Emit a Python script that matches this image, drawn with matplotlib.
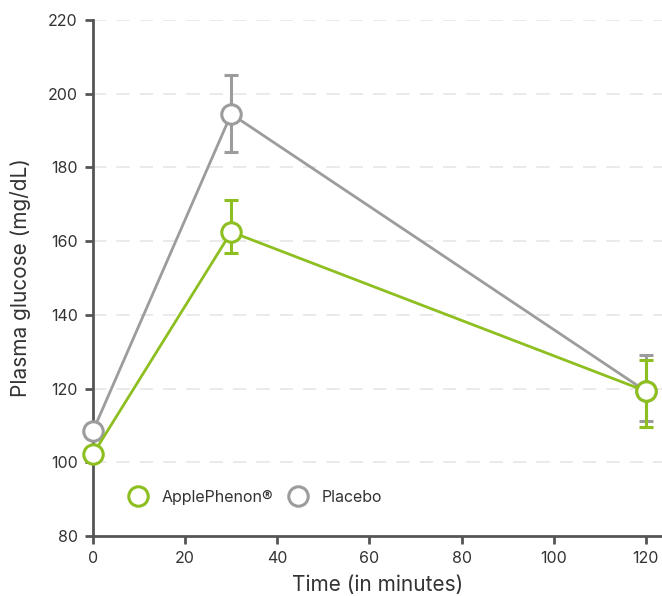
import matplotlib
matplotlib.use('Agg')
import matplotlib.pyplot as plt
from matplotlib.lines import Line2D

plt.rcParams['font.family'] = ['Inter', 'DejaVu Sans']

# --- data ---
time_min = [0, 30, 120]
apple_mean = [102.2, 162.5, 119.3]
apple_err_lo = [0, 5.7, 9.8]
apple_err_hi = [0, 8.7, 8.5]
placebo_mean = [108.5, 194.5, 119.3]
placebo_err_lo = [0, 10.3, 8.0]
placebo_err_hi = [0, 10.5, 9.8]

yticks = [80, 100, 120, 140, 160, 180, 200, 220]
xticks = [0, 20, 40, 60, 80, 100, 120]

GREEN = '#8cbf1f'
GRAY = '#9c9c9c'
AXIS = '#555555'
TEXT = '#333333'

fig = plt.figure(figsize=(6.62, 5.96), dpi=100)
ax = fig.add_axes([93 / 662, 60 / 596, 569 / 662, 516 / 596])

for mean, lo, hi, col, z in [(placebo_mean, placebo_err_lo, placebo_err_hi, GRAY, 3),
                             (apple_mean, apple_err_lo, apple_err_hi, GREEN, 4)]:
    ax.errorbar(time_min, mean, yerr=[lo, hi], color=col, lw=2, elinewidth=2.2,
                capsize=5, capthick=2.2, marker='o', markersize=14,
                markerfacecolor='white', markeredgecolor=col, markeredgewidth=2.2,
                zorder=z, clip_on=False)

ax.set_xlim(0, 123.5)
ax.set_ylim(80, 220)
ax.set_xticks(xticks)
ax.set_yticks(yticks)

for y in yticks[1:]:
    ax.axhline(y, color='#e6e6e6', lw=1.2, ls=(0, (8, 6)), zorder=0)

for s in ['top', 'right']:
    ax.spines[s].set_visible(False)
for s in ['left', 'bottom']:
    ax.spines[s].set_color(AXIS)
    ax.spines[s].set_linewidth(2)
    ax.spines[s].set_zorder(2)

ax.tick_params(axis='both', colors=AXIS, width=2, length=6, labelsize=11.5,
               labelcolor=TEXT, pad=5)

ax.set_xlabel('Time (in minutes)', fontsize=15, color=TEXT, labelpad=6)
ax.set_ylabel('Plasma glucose (mg/dL)', fontsize=15, color=TEXT, labelpad=12)

handles = [
    Line2D([], [], ls='none', marker='o', markersize=14, markerfacecolor='white',
           markeredgecolor=GREEN, markeredgewidth=2.2, label='ApplePhenon®'),
    Line2D([], [], ls='none', marker='o', markersize=14, markerfacecolor='white',
           markeredgecolor=GRAY, markeredgewidth=2.2, label='Placebo'),
]
leg = ax.legend(handles=handles, loc='center', bbox_to_anchor=(0.285, 0.075),
                ncol=2, frameon=False, fontsize=11.5, handletextpad=0.9,
                columnspacing=0.9, handlelength=1.2)
for t in leg.get_texts():
    t.set_color(TEXT)

fig.savefig('out.png', dpi=100)
